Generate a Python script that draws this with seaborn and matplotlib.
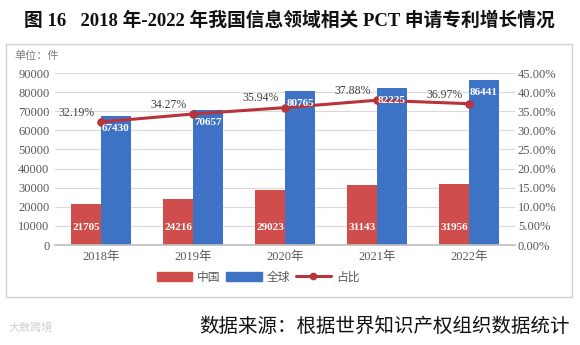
import matplotlib
matplotlib.use("Agg")
import matplotlib.pyplot as plt
import seaborn as sns
import pandas as pd
from matplotlib.patches import Rectangle, Patch
from matplotlib.lines import Line2D
from matplotlib.ticker import FuncFormatter

years = ["2018年", "2019年", "2020年", "2021年", "2022年"]
china = [21705, 24216, 29023, 31143, 31956]
world = [67430, 70657, 80765, 82225, 86441]
share = [32.19, 34.27, 35.94, 37.88, 36.97]
series_names = ["中国", "全球", "占比"]

sns.set_theme(style="white")
SERIF = ["Liberation Serif", "Noto Sans CJK SC"]
CJK = ["Noto Sans CJK SC", "DejaVu Sans"]
plt.rcParams["font.family"] = SERIF

RED = "#CF4E4C"
BLUE = "#3E72C4"
LINE = "#B8343B"
GRAY = "#595959"

df = pd.DataFrame({
    "year": years * 2,
    "value": china + world,
    "series": [series_names[0]] * 5 + [series_names[1]] * 5,
})

fig = plt.figure(figsize=(5.8, 3.45), dpi=100)
fig.patch.set_facecolor("white")
ax = fig.add_axes([55 / 580, 1 - 245 / 345, 460 / 580, 172 / 345])

sns.barplot(data=df, x="year", y="value", hue="series", order=years,
            hue_order=series_names[:2], palette=[RED, BLUE], width=0.65,
            saturation=1, ax=ax, legend=False, errorbar=None, linewidth=0)
ax.set_xlim(-0.5, 4.5)
ax.set_ylim(0, 90000)
ax.set_yticks(range(0, 90001, 10000))
ax.yaxis.grid(True, color="#D9D9D9", linewidth=0.8)
ax.set_axisbelow(True)
for s in ["left", "right", "top"]:
    ax.spines[s].set_visible(False)
ax.spines["bottom"].set_color("#BFBFBF")
ax.set_xlabel("")
ax.set_ylabel("")
ax.tick_params(axis="both", length=0, labelsize=9, colors=GRAY, pad=4)
for lab in ax.get_xticklabels():
    lab.set_fontfamily(SERIF)

ax2 = ax.twinx()
sns.pointplot(x=years, y=share, order=years, color=LINE, markers="o",
              linestyles="-", markersize=4.5, linewidth=2.2, ax=ax2,
              errorbar=None)
ax2.set_xlim(-0.5, 4.5)
ax2.set_ylim(0, 45)
ax2.set_yticks(range(0, 46, 5))
ax2.yaxis.set_major_formatter(FuncFormatter(lambda v, p: f"{v:.2f}%"))
for s in ["left", "right", "top", "bottom"]:
    ax2.spines[s].set_visible(False)
ax2.tick_params(axis="y", length=0, labelsize=9, colors=GRAY, pad=2)
ax2.set_xlabel("")
ax2.set_ylabel("")
for i, p in enumerate(share):
    ax2.text(i - 0.27, p + 2.4, f"{p:.2f}%", ha="center", va="center",
             color="#404040", fontsize=8.5)

# bar value labels (drawn above the line)
for i, bars in enumerate(ax.containers):
    for j, b in enumerate(bars):
        v = b.get_height()
        xc = b.get_x() + b.get_width() / 2
        y = 9000 if i == 0 else v - 6500
        ax2.text(xc, y, f"{int(v)}", ha="center", va="center",
                 color="white", fontsize=8, fontweight="bold",
                 transform=ax.transData, zorder=10)

# unit label
fig.text(14 / 580, 1 - 56 / 345, "单位：件", fontsize=8, color="#7F7F7F",
         family=CJK, va="center")

# legend
handles = [Patch(color=RED), Patch(color=BLUE),
           Line2D([0], [0], color=LINE, lw=2.2, marker="o", markersize=4.5)]
leg = fig.legend(handles, series_names, loc="center",
                 bbox_to_anchor=(258 / 580, 1 - 277 / 345), ncol=3,
                 frameon=False, handlelength=3.0,
                 handleheight=0.9, columnspacing=0.5, handletextpad=0.4,
                 prop={"family": CJK, "size": 8.5})
for t in leg.get_texts():
    t.set_color(GRAY)

# border box
fig.patches.append(Rectangle((6 / 580, 1 - 297 / 345), 566 / 580, 253 / 345,
                             transform=fig.transFigure, fill=False,
                             edgecolor="#D0D0D0", linewidth=1))

# title
fig.text(289 / 580, 1 - 20 / 345,
         "图 16   2018 年-2022 年我国信息领域相关 PCT 申请专利增长情况",
         ha="center", va="center", fontsize=13.5, fontweight="bold",
         family=["Liberation Serif", "Noto Sans CJK SC"], color="#111111")

# source
fig.text(570 / 580, 1 - 326 / 345, "数据来源：根据世界知识产权组织数据统计",
         ha="right", va="center", fontsize=14, family=CJK, color="#111111")
fig.text(8 / 580, 1 - 328 / 345, "大数跨境", ha="left", va="center",
         fontsize=8, family=CJK, color="#D0D0D0")

fig.savefig("out.png", dpi=100, facecolor="white")
